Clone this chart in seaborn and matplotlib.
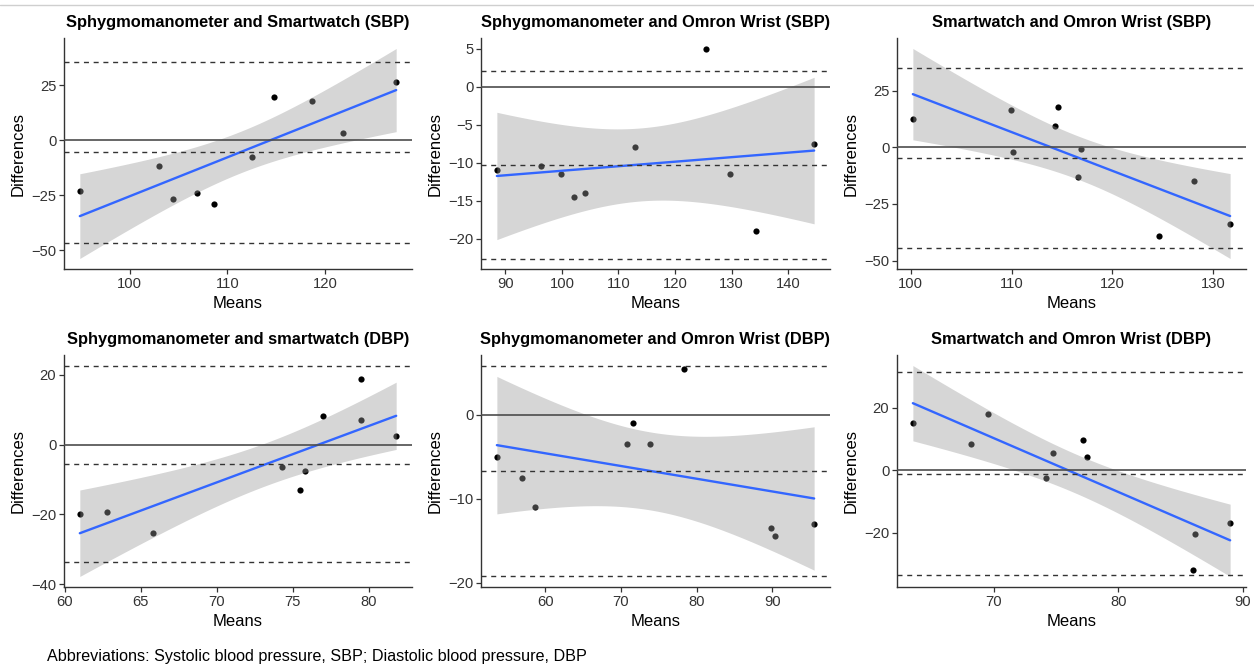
import numpy as np
import pandas as pd
import matplotlib
matplotlib.use("Agg")
import matplotlib.pyplot as plt
from matplotlib.lines import Line2D
import seaborn as sns

# Bland-Altman comparisons: mean of the two devices vs. their difference
titles = [
    "Sphygmomanometer and Smartwatch (SBP)",
    "Sphygmomanometer and Omron Wrist (SBP)",
    "Smartwatch and Omron Wrist (SBP)",
    "Sphygmomanometer and smartwatch (DBP)",
    "Sphygmomanometer and Omron Wrist (DBP)",
    "Smartwatch and Omron Wrist (DBP)",
]

means_sph_sw_sbp = [94.9, 103.0, 104.4, 106.9, 108.6, 112.5, 114.8, 118.7, 121.9, 127.3]
diffs_sph_sw_sbp = [-23.3, -11.9, -26.8, -23.8, -29.2, -7.5, 19.7, 17.9, 3.5, 26.4]

means_sph_om_sbp = [88.5, 96.3, 99.8, 102.2, 104.0, 113.0, 125.4, 129.7, 134.4, 144.6]
diffs_sph_om_sbp = [-11.0, -10.5, -11.5, -14.5, -14.0, -8.0, 5.0, -11.5, -19.0, -7.5]

means_sw_om_sbp = [100.2, 109.9, 110.1, 114.35, 114.6, 116.6, 116.9, 124.6, 128.1, 131.7]
diffs_sw_om_sbp = [12.4, 16.3, -2.0, 9.5, 17.9, -13.1, -0.6, -39.0, -15.0, -33.9]

means_sph_sw_dbp = [61.0, 62.8, 65.8, 74.3, 75.5, 75.8, 77.0, 79.5, 79.5, 81.8]
diffs_sph_sw_dbp = [-19.9, -19.4, -25.4, -6.4, -12.95, -7.5, 8.1, 18.95, 7.05, 2.57]

means_sph_om_dbp = [53.6, 56.9, 58.6, 70.75, 71.55, 73.8, 78.3, 89.8, 90.3, 95.5]
diffs_sph_om_dbp = [-5.0, -7.5, -11.0, -3.5, -1.0, -3.5, 5.5, -13.5, -14.5, -13.0]

means_sw_om_dbp = [63.5, 68.2, 69.5, 74.2, 74.8, 77.2, 77.5, 86.0, 86.2, 89.0]
diffs_sw_om_dbp = [15.0, 8.5, 18.1, -2.45, 5.5, 9.6, 4.15, -31.9, -20.4, -17.0]

xticks = [[100, 110, 120], [90, 100, 110, 120, 130, 140], [100, 110, 120, 130],
          [60, 65, 70, 75, 80], [60, 70, 80, 90], [70, 80, 90]]
yticks = [[-50, -25, 0, 25], [-20, -15, -10, -5, 0, 5], [-50, -25, 0, 25],
          [-40, -20, 0, 20], [-20, -10, 0], [-20, 0, 20]]

caption = "Abbreviations: Systolic blood pressure, SBP; Diastolic blood pressure, DBP"

panels = [
    (means_sph_sw_sbp, diffs_sph_sw_sbp),
    (means_sph_om_sbp, diffs_sph_om_sbp),
    (means_sw_om_sbp, diffs_sw_om_sbp),
    (means_sph_sw_dbp, diffs_sph_sw_dbp),
    (means_sph_om_dbp, diffs_sph_om_dbp),
    (means_sw_om_dbp, diffs_sw_om_dbp),
]

T_975_DF8 = 2.306  # two-sided 95% t quantile, 8 degrees of freedom (10 pairs)

sns.set_theme(style="ticks")
plt.rcParams["font.family"] = ["Liberation Sans", "DejaVu Sans"]

W, H = 1254, 668
fig = plt.figure(figsize=(W / 100, H / 100), dpi=100)

col_px = [(64, 412), (481, 830), (897, 1246)]
row_px = [(38, 269), (355, 587)]

axis_col = "#333333"
for i, ((m, d), title) in enumerate(zip(panels, titles)):
    r, c = divmod(i, 3)
    x0, x1 = col_px[c]
    y0, y1 = row_px[r]
    ax = fig.add_axes([x0 / W, 1 - y1 / H, (x1 - x0) / W, (y1 - y0) / H])

    m = np.asarray(m, float)
    d = np.asarray(d, float)
    df = pd.DataFrame({"Means": m, "Differences": d})

    sns.scatterplot(data=df, x="Means", y="Differences", ax=ax, color="black",
                    s=20, linewidth=0, zorder=2)

    # least-squares fit with a 95% confidence band
    slope, intercept = np.polyfit(m, d, 1)
    grid = np.linspace(m.min(), m.max(), 80)
    fit = intercept + slope * grid
    resid = d - (intercept + slope * m)
    n = len(m)
    s = np.sqrt(np.sum(resid ** 2) / (n - 2))
    se = s * np.sqrt(1 / n + (grid - m.mean()) ** 2 / np.sum((m - m.mean()) ** 2))
    lo, hi = fit - T_975_DF8 * se, fit + T_975_DF8 * se
    ax.fill_between(grid, lo, hi, color="#999999", alpha=0.4, linewidth=0, zorder=3)
    sns.lineplot(x=grid, y=fit, ax=ax, color="#3366FF", linewidth=1.7, zorder=4)

    # bias and limits of agreement
    bias = d.mean()
    sd = d.std(ddof=1)
    loa = [bias + 1.96 * sd, bias, bias - 1.96 * sd]
    ax.axhline(0, color="#4d4d4d", linewidth=1.2, zorder=5)
    for v in loa:
        ax.axhline(v, color="#333333", linewidth=1.0, linestyle=(0, (3.6, 3.4)), zorder=5)

    # 5% padding like the default continuous scale expansion
    xr = m.max() - m.min()
    ax.set_xlim(m.min() - 0.05 * xr, m.max() + 0.05 * xr)
    ys = np.concatenate([d, lo, hi, loa, [0]])
    yr = ys.max() - ys.min()
    ax.set_ylim(ys.min() - 0.05 * yr, ys.max() + 0.05 * yr)

    ax.set_xticks(xticks[i])
    ax.set_yticks(yticks[i])
    ax.tick_params(axis="both", direction="out", length=3.5, width=0.9, color=axis_col,
                   labelsize=10.6, labelcolor="#333333", pad=2)
    for side in ("left", "bottom"):
        ax.spines[side].set_color(axis_col)
        ax.spines[side].set_linewidth(1.0)
    sns.despine(ax=ax)

    ax.set_xlabel("Means", fontsize=12, color="black", labelpad=4)
    ax.set_ylabel("Differences", fontsize=12, color="black", labelpad=4)
    ax.set_title(title, fontsize=11.8, fontweight="bold", color="black", pad=8)

fig.text(47 / W, 1 - 657 / H, caption, fontsize=11.6, color="black", va="center", ha="left")
fig.add_artist(Line2D([0, 1], [1 - 5 / H, 1 - 5 / H], transform=fig.transFigure,
                      color="#cfcfcf", linewidth=1.0))

fig.savefig("out.png", dpi=100, facecolor="white")
